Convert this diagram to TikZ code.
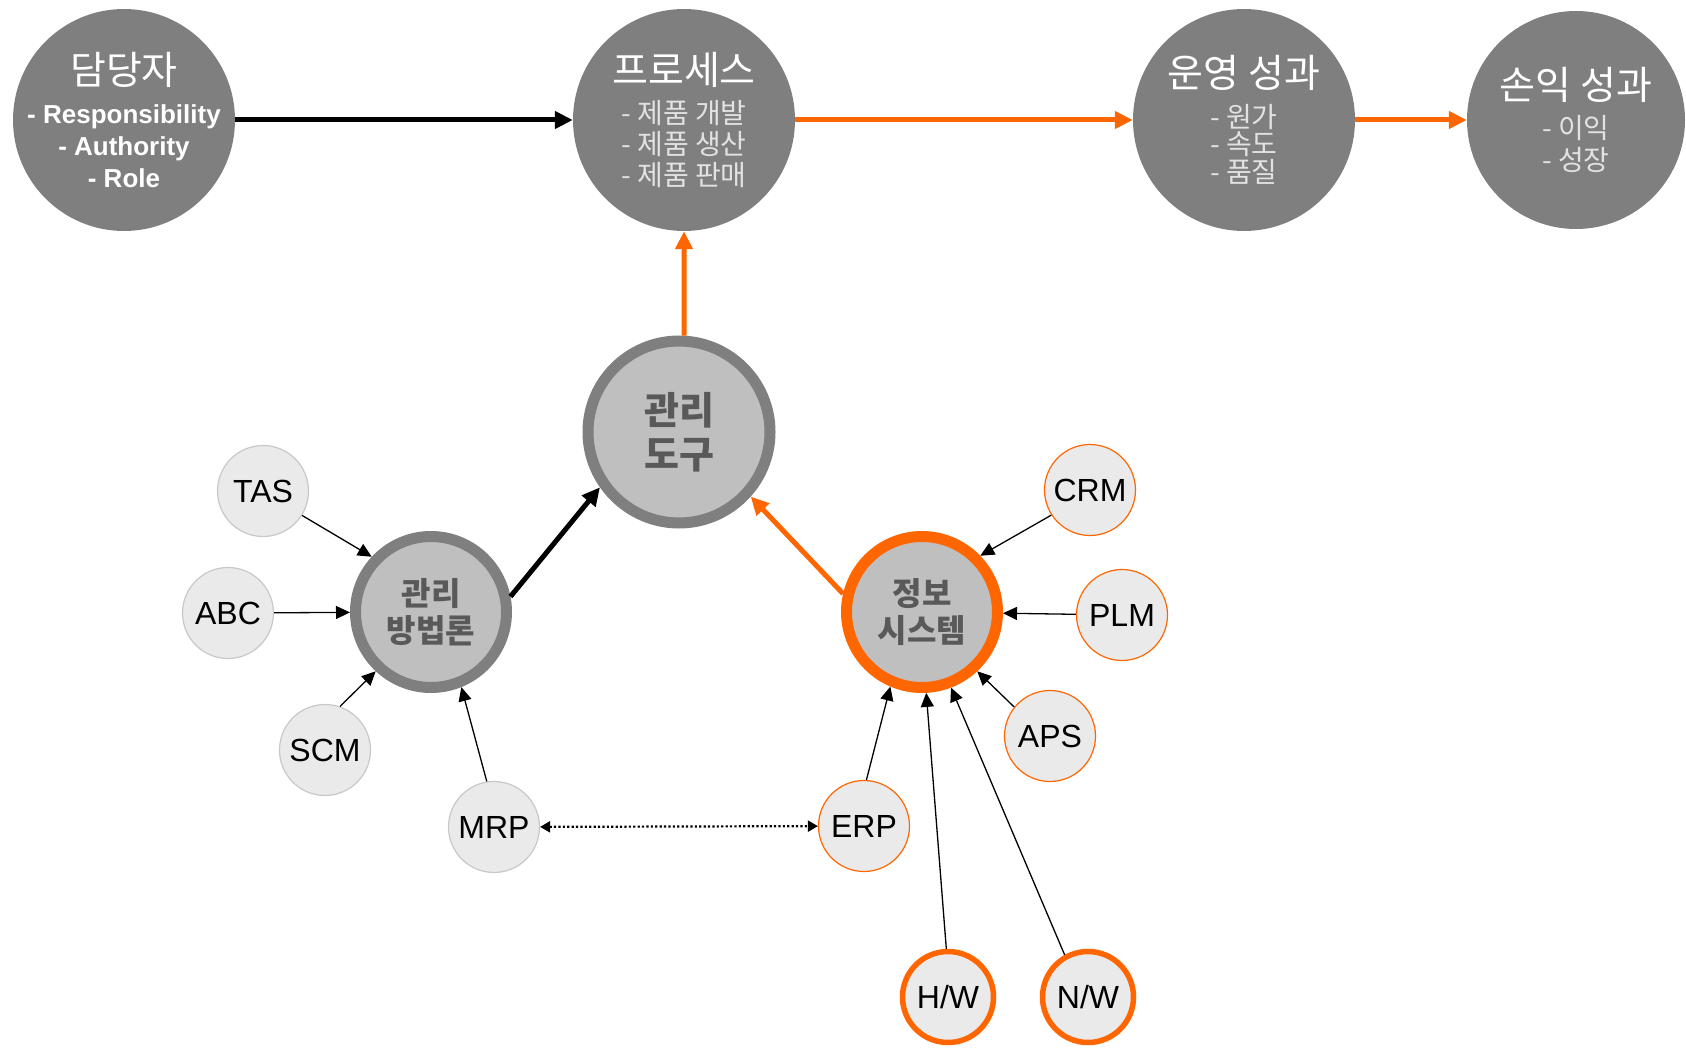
\documentclass[tikz,border=0pt]{standalone}
\usepackage{fontspec}
\setmainfont{Liberation Sans}
\newfontfamily\kr{Noto Sans CJK KR}
\usepackage{tikz}
\usetikzlibrary{arrows.meta}
\definecolor{topgray}{HTML}{7F7F7F}
\definecolor{hubfill}{HTML}{BFBFBF}
\definecolor{hubtext}{HTML}{595959}
\definecolor{leaffill}{HTML}{EAEAEA}
\definecolor{leafline}{HTML}{C8C8C8}
\definecolor{accent}{HTML}{FF6600}
\definecolor{subtext}{HTML}{E2E2E2}
\newcommand{\circtitle}[1]{{\fontsize{39}{39}\selectfont\color{white}#1}}
\newcommand{\tightlines}{\lineskiplimit=-20pt\relax}
\tikzstyle{topcircle} = [circle, fill=topgray, minimum size=222pt, inner sep=0pt]
\tikzstyle{toptext} = [align=center, text=subtext, font=\kr\fontsize{28}{31}\selectfont\tightlines]
\tikzstyle{hub} = [circle, draw=topgray, fill=hubfill, line width=11pt, minimum size=151pt, inner sep=0pt, align=center, text=hubtext, font=\kr\bfseries\fontsize{32}{37}\selectfont]
\tikzstyle{leaf} = [circle, draw=leafline, fill=leaffill, line width=1.2pt, minimum size=91pt, inner sep=0pt, font=\fontsize{32}{32}\selectfont]
\tikzstyle{sysleaf} = [leaf, draw=accent]
\tikzstyle{hwleaf} = [leaf, draw=accent, line width=5.5pt]
\tikzstyle{line} = [draw, line width=1.3pt, -{Triangle[length=14pt,width=13pt]}]
\tikzstyle{bigline} = [draw, line width=5pt, -{Triangle[length=18pt,width=17pt]}]

\begin{document}
\begin{tikzpicture}[x=1pt, y=-1pt]
    \useasboundingbox (0,0) rectangle (1686,1048);

    \node [topcircle] (owner) at (124,120) {};
    \node [topcircle] (process) at (684,120) {};
    \node [topcircle] (ops) at (1244,120) {};
    \node [topcircle, minimum size=218pt] (pnl) at (1576,120) {};

    \node [toptext, text=white, font=\bfseries\fontsize{26}{32}\selectfont] (ownerText) at (owner) {\circtitle{\kr\mdseries 담당자}\\[7pt]- Responsibility\\- Authority\\- Role};
    \node [toptext] (processText) at (process) {\circtitle{프로세스}\\[8pt]- 제품 개발\\- 제품 생산\\- 제품 판매};
    \node [toptext, font=\kr\fontsize{28}{27.5}\selectfont\tightlines] (opsText) at (ops) {\circtitle{운영 성과}\\[12pt]- 원가\\- 속도\\- 품질};
    \node [toptext, font=\kr\fontsize{28}{32}\selectfont\tightlines] (pnlText) at (pnl) {\circtitle{손익 성과}\\[7pt]- 이익\\- 성장};

    \node [hub, minimum size=182pt, font=\kr\bfseries\fontsize{38}{44}\selectfont] (tool) at (679,432) {관리\\도구};
    \node [hub] (method) at (431,612) {관리\\방법론};
    \node [hub, draw=accent] (info) at (922,612) {정보\\시스템};

    \node [leaf] (tas) at (263,491) {TAS};
    \node [leaf] (abc) at (228,613) {ABC};
    \node [leaf] (scm) at (325,750) {SCM};
    \node [leaf] (mrp) at (494,827) {MRP};
    \node [sysleaf] (erp) at (864,826) {ERP};
    \node [sysleaf] (crm) at (1090,490) {CRM};
    \node [sysleaf] (plm) at (1122,615) {PLM};
    \node [sysleaf] (aps) at (1050,736) {APS};
    \node [hwleaf] (hw) at (948,997) {H/W};
    \node [hwleaf] (nw) at (1088,997) {N/W};

    \path [bigline] (owner) -- (process);
    \path [bigline, draw=accent] (process) -- (ops);
    \path [bigline, draw=accent] (ops) -- (pnl);
    \path [bigline, draw=accent] (tool.87) -- (process.south);
    \path [bigline] (method.11) -- (tool.215);
    \path [bigline, draw=accent] (info.167) -- (tool.-42);

    \path [line] (tas.-32) -- (method.137);
    \path [line] (abc) -- (method);
    \path [line] (scm.71) -- (method.227);
    \path [line] (mrp.99) -- (method.-68);
    \path [line] (crm.213) -- (info.44);
    \path [line] (plm) -- (info);
    \path [line] (aps.141) -- (info.-47);
    \path [line] (erp.87) -- (info.247);
    \path [line] (hw.92) -- (info.273);
    \path [line] (nw.119) -- (info.-69);
    \path [draw, line width=2.2pt, dash pattern=on 2.2pt off 2.2pt, {Triangle[length=10pt,width=11pt]}-{Triangle[length=10pt,width=11pt]}] (mrp) -- (erp);
\end{tikzpicture}
\end{document}
